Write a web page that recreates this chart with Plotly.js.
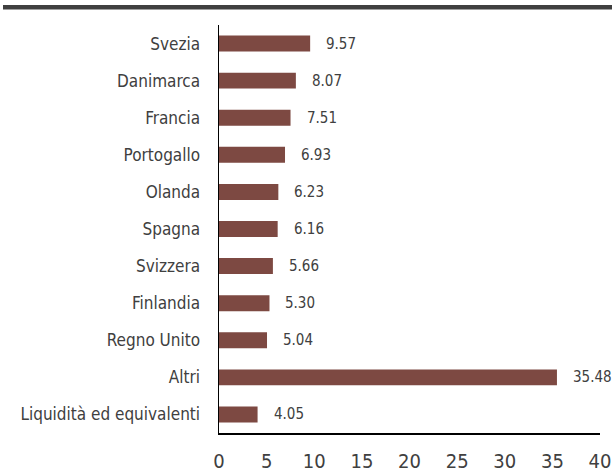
<!DOCTYPE html>
<html>
<head>
<meta charset="utf-8">
<script src="https://cdn.plot.ly/plotly-3.0.1.min.js"></script>
<style>
  html, body { margin: 0; padding: 0; background: #fff; }
  #chart { width: 612px; height: 472px; }
</style>
</head>
<body>
<div id="chart"></div>
<script>
const categories = ["Svezia", "Danimarca", "Francia", "Portogallo", "Olanda", "Spagna", "Svizzera", "Finlandia", "Regno Unito", "Altri", "Liquidità ed equivalenti"];
const values = [9.57, 8.07, 7.51, 6.93, 6.23, 6.16, 5.66, 5.30, 5.04, 35.48, 4.05];
const valueLabels = ["9.57", "8.07", "7.51", "6.93", "6.23", "6.16", "5.66", "5.30", "5.04", "35.48", "4.05"];
const xTicks = [0, 5, 10, 15, 20, 25, 30, 35, 40];

const FONT = "'DejaVu Sans Condensed', 'Liberation Sans Narrow', sans-serif";

const trace = {
  type: "bar",
  orientation: "h",
  y: categories,
  x: values,
  marker: { color: "#7d4942" },
  width: 0.43,
  hoverinfo: "none"
};

const annotations = categories.map((c, i) => ({
  x: values[i], y: c, xref: "x", yref: "y",
  text: valueLabels[i], showarrow: false,
  xanchor: "left", xshift: 14, yshift: 0,
  font: { family: FONT, size: 15, color: "#404040" }
}));

const layout = {
  width: 612, height: 472,
  margin: { l: 219, r: 12, t: 25, b: 39 },
  paper_bgcolor: "#fff", plot_bgcolor: "#fff",
  showlegend: false,
  font: { family: FONT, color: "#404040" },
  xaxis: {
    range: [0, 40], tickvals: xTicks, ticktext: xTicks.map(String),
    showgrid: false, zeroline: false,
    showline: true, linecolor: "#000", linewidth: 1.5,
    ticks: "", ticklabelstandoff: 9,
    tickfont: { family: FONT, size: 20, color: "#404040" },
    fixedrange: true
  },
  yaxis: {
    autorange: "reversed", categoryorder: "array", categoryarray: categories,
    showgrid: false, zeroline: false,
    showline: true, linecolor: "#000", linewidth: 1.5,
    ticks: "", ticklabelstandoff: 14,
    tickfont: { family: FONT, size: 17, color: "#404040" },
    fixedrange: true
  },
  annotations: annotations,
  shapes: [{
    type: "rect", xref: "paper", yref: "paper",
    x0: (3 - 219) / 381, x1: (612 - 219) / 381,
    y0: (433 - 9.5) / 408, y1: (433 - 5) / 408,
    fillcolor: "#404040", line: { width: 0 }, layer: "above"
  }]
};

Plotly.newPlot("chart", [trace], layout, { displayModeBar: false, staticPlot: true });
</script>
</body>
</html>
